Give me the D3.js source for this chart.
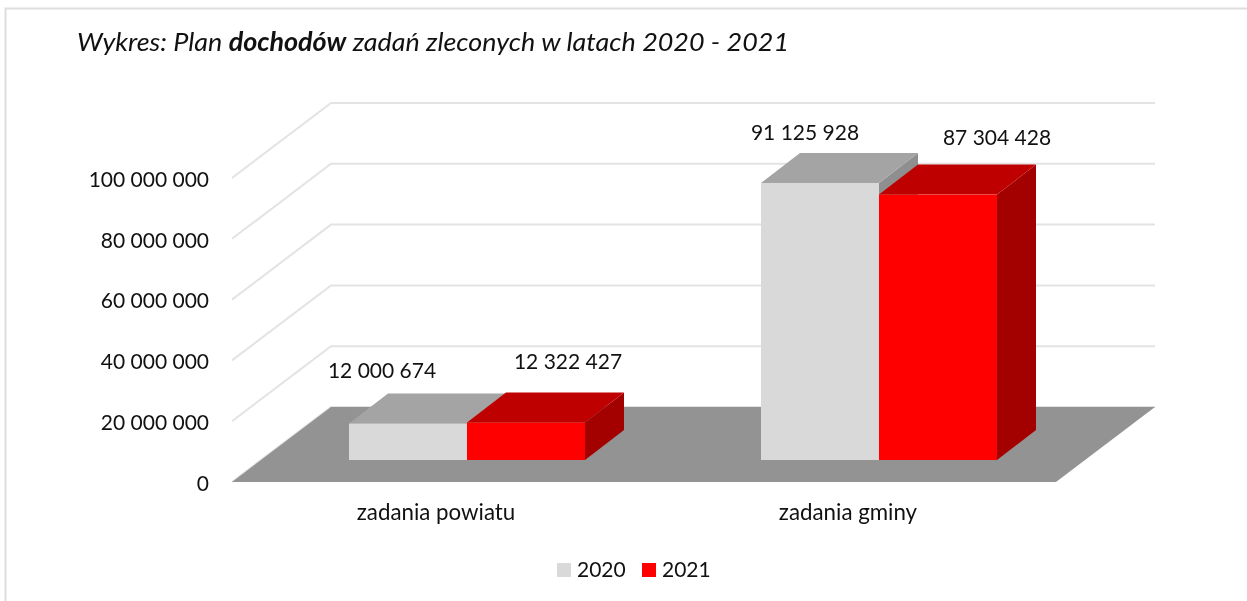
<!DOCTYPE html>
<html>
<head>
<meta charset="utf-8">
<script src="https://cdnjs.cloudflare.com/ajax/libs/d3/7.8.5/d3.min.js"></script>
<style>
  html, body { margin: 0; padding: 0; background: #fff; overflow: hidden; }
  svg { display: block; filter: blur(0.35px); }
  text { font-family: Lato, "Open Sans", sans-serif; fill: #111; }
</style>
</head>
<body>
<div id="chart"></div>
<script>
// Data
const categories = ['zadania powiatu', 'zadania gminy'];
const years = ['2020', '2021'];
const values2020 = [12000674, 91125928];
const values2021 = [12322427, 87304428];
const yTicks = [0, 20000000, 40000000, 60000000, 80000000, 100000000];

// Excel moved the data labels by hand, so they are nudged from the bar top
const labelNudge = [
  [[-26, -46], [42, -54]],
  [[-15, -43], [59, -50]],
];

const width = 1247;
const height = 601;

const svg = d3.select('#chart').append('svg')
  .attr('width', width)
  .attr('height', height);

// Chart border: only top and left are inside the crop
svg.append('path')
  .attr('d', `M5.5,${height} V8.5 H${width}`)
  .attr('fill', 'none')
  .attr('stroke', '#dedede')
  .attr('stroke-width', 2);

// Title
const title = svg.append('text')
  .attr('x', 77).attr('y', 51)
  .attr('font-size', 26)
  .attr('font-style', 'italic')
  .attr('textLength', 712)
  .attr('lengthAdjust', 'spacingAndGlyphs');
title.append('tspan').text('Wykres: Plan ');
title.append('tspan').attr('font-weight', 'bold').text('dochodów');
title.append('tspan').text(' zadań zleconych w latach 2020 - 2021');

// Scales for the front plane of the 3D box
const x = d3.scaleBand().domain(categories).range([232, 1056]);
const y = d3.scaleLinear().domain([0, 100000000]).range([482, 178]);

// Depth of the box and of the bars
const depth = { dx: 99, dy: -75 };
const barDepth = { dx: 39, dy: -30 };
const barInset = { dx: 29, dy: -22 }; // bars stand this far behind the front edge
const barWidth = 118;

const fmt = d3.formatLocale({
  decimal: ',', thousands: ' ', grouping: [3], currency: ['', ''],
}).format(',d');

const poly = (pts) => pts.map((p) => p.join(',')).join(' ');

// Wall gridlines
const xLeft = x.range()[0];
const xRight = x.range()[1];
const grid = svg.append('g')
  .attr('fill', 'none')
  .attr('stroke', '#e3e3e3')
  .attr('stroke-width', 2);
grid.selectAll('polyline')
  .data(yTicks)
  .enter()
  .append('polyline')
  .attr('points', (d) => poly([
    [xLeft, y(d)],
    [xLeft + depth.dx, y(d) + depth.dy],
    [xRight + depth.dx, y(d) + depth.dy],
  ]));

// Floor
svg.append('polygon')
  .attr('points', poly([
    [xLeft, y(0)],
    [xRight, y(0)],
    [xRight + depth.dx, y(0) + depth.dy],
    [xLeft + depth.dx, y(0) + depth.dy],
  ]))
  .attr('fill', '#939393');

// Y axis
const yAxis = svg.append('g')
  .attr('transform', 'translate(212,1.5)')
  .call(d3.axisLeft(y).tickValues(yTicks).tickSize(0).tickFormat(fmt));
yAxis.select('.domain').remove();
yAxis.selectAll('text')
  .attr('font-size', 21)
  .style('font-family', 'Lato, sans-serif')
  .attr('fill', '#111');

// Category labels
svg.append('g')
  .selectAll('text')
  .data(categories)
  .enter()
  .append('text')
  .attr('x', (d) => x(d) + x.bandwidth() / 2 - 2)
  .attr('y', 520)
  .attr('text-anchor', 'middle')
  .attr('font-size', 22.3)
  .text((d) => d);

// Bars: 2020 first so that the 2021 top lies over its side
const series = [
  { name: years[0], values: values2020, front: '#d9d9d9', top: '#a4a4a4', side: '#8f8f8f' },
  { name: years[1], values: values2021, front: '#ff0000', top: '#bf0000', side: '#a30000' },
];
const gapInBand = (x.bandwidth() - 2 * barWidth) / 2;

series.forEach((s, si) => {
  s.values.forEach((v, ci) => {
    const x0 = x(categories[ci]) + barInset.dx + gapInBand + si * barWidth;
    const x1 = x0 + barWidth;
    const base = y(0) + barInset.dy;
    const top = base - (y(0) - y(v));
    const g = svg.append('g');
    g.append('polygon')
      .attr('points', poly([
        [x1, top], [x1 + barDepth.dx, top + barDepth.dy],
        [x1 + barDepth.dx, base + barDepth.dy], [x1, base],
      ]))
      .attr('fill', s.side);
    g.append('polygon')
      .attr('points', poly([
        [x0, top], [x1, top],
        [x1 + barDepth.dx, top + barDepth.dy], [x0 + barDepth.dx, top + barDepth.dy],
      ]))
      .attr('fill', s.top);
    g.append('rect')
      .attr('x', x0).attr('y', top)
      .attr('width', barWidth).attr('height', base - top)
      .attr('fill', s.front);
  });
});

// Data labels
series.forEach((s, si) => {
  s.values.forEach((v, ci) => {
    const cx = x(categories[ci]) + barInset.dx + gapInBand + (si + 0.5) * barWidth;
    const top = y(0) + barInset.dy - (y(0) - y(v));
    svg.append('text')
      .attr('x', cx + labelNudge[ci][si][0])
      .attr('y', top + labelNudge[ci][si][1])
      .attr('text-anchor', 'middle')
      .attr('font-size', 21)
      .text(fmt(v));
  });
});

// Legend
const legend = svg.append('g').selectAll('g')
  .data(series)
  .enter()
  .append('g')
  .attr('transform', (d, i) => `translate(${557 + i * 85},563)`);
legend.append('rect')
  .attr('width', 14).attr('height', 14)
  .attr('fill', (d) => d.front);
legend.append('text')
  .attr('x', 20).attr('y', 14)
  .attr('font-size', 21)
  .text((d) => d.name);
</script>
</body>
</html>
